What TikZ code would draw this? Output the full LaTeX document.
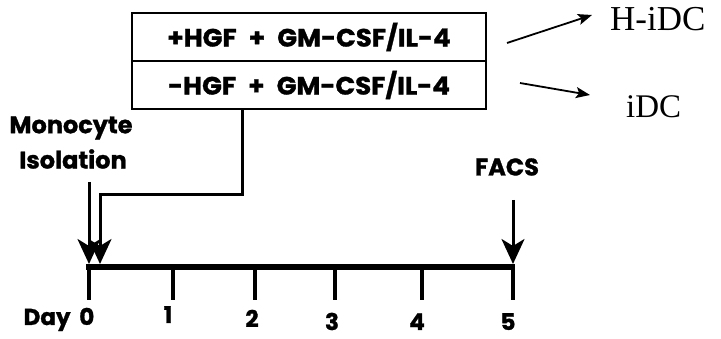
\documentclass[tikz,border=0pt]{standalone}
\usepackage{fontspec}
\setmainfont{Liberation Serif}
\newfontfamily\comic{Poppins}[FakeStretch=1.0, WordSpace=1.8, FakeBold=1.2]
\newfontfamily\comicwide{Poppins}[FakeStretch=1.04, WordSpace=2.2, FakeBold=1.2]
\usetikzlibrary{arrows.meta}
\tikzset{
  cbox/.style={draw, line width=1.6pt, minimum width=354pt, minimum height=48pt, inner sep=0pt, font=\comicwide\bfseries\fontsize{25}{26}\selectfont},
  clabel/.style={inner sep=0pt, font=\comic\bfseries\fontsize{24}{26}\selectfont},
  daylabel/.style={inner sep=0pt, anchor=base, font=\comic\bfseries\fontsize{23}{26}\selectfont},
  rlabel/.style={inner sep=0pt, anchor=west, font=\fontsize{33}{36}\selectfont},
  bigarrow/.style={line width=3pt, -{Stealth[length=25pt,width=23pt,inset=7pt]}},
  thinarrow/.style={line width=1.8pt, -{Stealth[length=14pt,width=11pt,inset=3pt]}},
  axis/.style={line width=6pt},
  tick/.style={line width=4pt}
}
\begin{document}
\begin{tikzpicture}[x=1pt,y=-1pt]
\useasboundingbox (0,0) rectangle (721,339);
% boxes
\node[cbox] (b1) at (309,37) {+HGF + GM-CSF/IL-4};
\node[cbox] (b2) at (309,85) {-HGF + GM-CSF/IL-4};
% outputs
\node[rlabel, font=\fontsize{35}{36}\selectfont] (h) at (610,19) {H-iDC};
\node[rlabel] (i) at (626,107) {iDC};
\coordinate (h0) at (507,43);
\coordinate (h1) at (592,15);
\coordinate (i0) at (520,83);
\coordinate (i1) at (590,95);
\draw[thinarrow] (h0) -- (h1);
\draw[thinarrow] (i0) -- (i1);
% axis
\coordinate (a0) at (86,267);
\coordinate (a5) at (515,267);
\draw[axis] (a0) -- (a5);
\foreach \n/\x in {0/89,1/173,2/255,3/335,4/422,5/513}{
  \coordinate (t\n) at (\x,267);
  \coordinate (u\n) at (\x,300);
  \draw[tick] (t\n) -- (u\n);
}
% day labels
\node[daylabel] (d0) at (59,325) {Day 0};
\node[daylabel] (d1) at (168,323) {1};
\node[daylabel] (d2) at (252,327) {2};
\node[daylabel] (d3) at (332,330) {3};
\node[daylabel] (d4) at (417,330) {4};
\node[daylabel] (d5) at (508,330) {5};
% monocyte isolation
\node[clabel] (m1) at (71,128) {Monocyte};
\node[clabel] (m2) at (73,159) {Isolation};
\coordinate (ms) at (89,182);
\coordinate (me) at (89,264);
\draw[bigarrow] (ms) -- (me);
% culture connector
\coordinate (c1) at (242,195);
\coordinate (c2) at (100,195);
\coordinate (ce) at (100,264);
\draw[bigarrow] (b2.south -| c1) -- (c1) -- (c2) -- (ce);
% FACS
\node[clabel] (f) at (507,167) {FACS};
\coordinate (fs) at (513,200);
\coordinate (fe) at (513,264);
\draw[bigarrow] (fs) -- (fe);
\end{tikzpicture}
\end{document}
